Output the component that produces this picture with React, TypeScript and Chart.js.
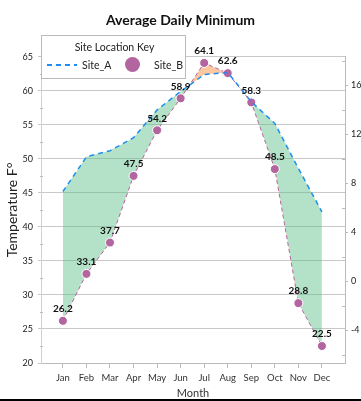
import React, { useEffect, useRef } from "react";
import { Chart, registerables } from "chart.js";

Chart.register(...registerables);

const months = ["Jan", "Feb", "Mar", "Apr", "May", "Jun", "Jul", "Aug", "Sep", "Oct", "Nov", "Dec"];
const siteA = [45.2, 50.3, 51.2, 53.1, 57.2, 59.9, 62.4, 62.7, 58.4, 55.2, 48.6, 42.2];
const siteB = [26.2, 33.1, 37.7, 47.5, 54.2, 58.9, 64.1, 62.6, 58.3, 48.5, 28.8, 22.5];
const fMin = 20;
const fMax = 65;
const fStep = 5;
const celsiusTicks = [-4, 0, 4, 8, 12, 16];
const fMinor = [22.5, 27.5, 32.5, 37.5, 42.5, 47.5, 52.5, 57.5, 62.5];
const cMinor = [-6, -2, 2, 6, 10, 14, 18];
const xMin = -0.93;
const xMax = 11.98;

const toC = (f: number) => ((f - 32) * 5) / 9;

const FONT = "Lato, 'Open Sans', sans-serif";
const BLUE = "#1e8ff0";
const PURPLE = "#b3659f";

const valueLabels = {
  id: "valueLabels",
  afterDatasetsDraw(chart: any) {
    const meta = chart.getDatasetMeta(1);
    const ctx = chart.ctx;
    ctx.save();
    ctx.font = `bold 10px ${FONT}`;
    ctx.fillStyle = "#111";
    ctx.textAlign = "center";
    ctx.textBaseline = "middle";
    meta.data.forEach((pt: any, i: number) => {
      ctx.fillText(siteB[i].toFixed(1), pt.x, pt.y - 12);
    });
    ctx.restore();
  },
};

const minorTicks = {
  id: "minorTicks",
  afterDraw(chart: any) {
    const ctx = chart.ctx;
    const y = chart.scales.y;
    const y1 = chart.scales.y1;
    const area = chart.chartArea;
    ctx.save();
    ctx.strokeStyle = "#bbbbbb";
    ctx.lineWidth = 1;
    ctx.beginPath();
    fMinor.forEach((v) => {
      const py = Math.round(y.getPixelForValue(v)) + 0.5;
      ctx.moveTo(area.left - 1, py);
      ctx.lineTo(area.left + 2, py);
    });
    cMinor.forEach((v) => {
      const py = Math.round(y1.getPixelForValue(v)) + 0.5;
      ctx.moveTo(area.right - 3, py);
      ctx.lineTo(area.right, py);
    });
    ctx.stroke();
    ctx.restore();
  },
};

export default function App() {
  const ref = useRef<HTMLCanvasElement | null>(null);

  useEffect(() => {
    if (!ref.current) return;
    const chart = new Chart(ref.current, {
      type: "line",
      data: {
        datasets: [
          {
            label: "Site_A",
            data: months.map((_, i) => ({ x: i, y: siteA[i] })),
            borderColor: BLUE,
            borderWidth: 1.5,
            borderDash: [5, 4],
            pointRadius: 0,
            tension: 0,
            fill: {
              target: 1,
              above: "rgba(86,190,133,0.45)",
              below: "rgba(251,145,65,0.5)",
            },
          },
          {
            label: "Site_B",
            data: months.map((_, i) => ({ x: i, y: siteB[i] })),
            borderColor: PURPLE,
            borderWidth: 1,
            borderDash: [4, 3],
            pointRadius: 4.5,
            pointBackgroundColor: PURPLE,
            pointBorderColor: "#ffffff",
            pointBorderWidth: 1,
            tension: 0,
            fill: false,
          },
        ],
      },
      options: {
        responsive: false,
        animation: false,
        layout: { padding: { left: 0, right: 0, top: 0, bottom: 0 } },
        plugins: {
          legend: { display: false },
          tooltip: { enabled: false },
          filler: { drawTime: "beforeDatasetsDraw" },
          title: {
            display: true,
            text: "Average Daily Minimum",
            font: { family: FONT, size: 14, weight: "bold" },
            color: "#111",
            padding: { top: 12, bottom: 28 },
          },
        } as any,
        scales: {
          x: {
            type: "linear",
            bounds: "data",
            min: xMin,
            max: xMax,
            afterBuildTicks: (scale: any) => {
              scale.ticks = months.map((_, i) => ({ value: i }));
              scale.min = xMin;
              scale.max = xMax;
            },
            afterFit: (scale: any) => {
              scale.height = 38;
            },
            ticks: {
              autoSkip: false,
              maxRotation: 0,
              padding: 4,
              color: "#333",
              font: { family: FONT, size: 9.5 },
              callback: (v: any) => months[Math.round(Number(v))] ?? "",
            },
            grid: {
              drawOnChartArea: false,
              drawTicks: true,
              tickLength: 5,
              color: "#bbbbbb",
            },
            border: { display: true, color: "#bbbbbb" },
            title: {
              display: true,
              text: "Month",
              color: "#333",
              font: { family: FONT, size: 11 },
              padding: { top: 0, bottom: 1 },
            },
          },
          y: {
            type: "linear",
            position: "left",
            min: fMin,
            max: fMax,
            afterFit: (scale: any) => {
              scale.width = 41;
            },
            ticks: {
              stepSize: fStep,
              padding: 5,
              color: "#222",
              font: { family: FONT, size: 9 },
            },
            grid: {
              color: "#c8c8c8",
              tickLength: 3,
            },
            border: { display: true, color: "#d0d0d0" },
            title: {
              display: true,
              text: "Temperature F°",
              color: "#222",
              font: { family: FONT, size: 14 },
              padding: { top: 4, bottom: 0 },
            },
          },
          y1: {
            type: "linear",
            position: "right",
            bounds: "data",
            min: toC(fMin),
            max: toC(fMax),
            afterBuildTicks: (scale: any) => {
              scale.ticks = celsiusTicks.map((v) => ({ value: v }));
              scale.min = toC(fMin);
              scale.max = toC(fMax);
            },
            afterFit: (scale: any) => {
              scale.width = 16;
            },
            ticks: {
              padding: 3,
              color: "#222",
              font: { family: FONT, size: 9 },
              callback: (v: any) => String(v),
            },
            grid: {
              drawOnChartArea: false,
              color: "#bbbbbb",
              tickLength: 3,
            },
            border: { display: true, color: "#bbbbbb" },
          },
        },
      } as any,
      plugins: [valueLabels, minorTicks],
    });
    return () => chart.destroy();
  }, []);

  const legendText: React.CSSProperties = {
    position: "absolute",
    fontFamily: FONT,
    fontSize: 10.5,
    color: "#222",
    lineHeight: "12px",
    whiteSpace: "nowrap",
  };

  return (
    <div style={{ position: "absolute", left: 0, top: 0, width: 361, height: 401, background: "#fff", overflow: "hidden" }}>
      <canvas ref={ref} width={361} height={401} style={{ display: "block" }} />
      <div
        style={{
          position: "absolute",
          left: 41,
          top: 35,
          width: 145,
          height: 44,
          border: "1px solid #bbbbbb",
          background: "#fff",
          boxSizing: "border-box",
        }}
      >
        <div style={{ ...legendText, left: 0, width: 145, top: 5, textAlign: "center" }}>Site Location Key</div>
        <svg style={{ position: "absolute", left: 5, top: 27 }} width={30} height={4}>
          <line x1={0} y1={2} x2={30} y2={2} stroke={BLUE} strokeWidth={2} strokeDasharray="5 4" />
        </svg>
        <div style={{ ...legendText, left: 40, top: 23 }}>Site_A</div>
        <div
          style={{
            position: "absolute",
            left: 83,
            top: 21,
            width: 15,
            height: 15,
            borderRadius: "50%",
            background: PURPLE,
          }}
        />
        <div style={{ ...legendText, left: 112, top: 23 }}>Site_B</div>
      </div>
      <div style={{ position: "absolute", left: 0, top: 399, width: 361, height: 2, background: "#000" }} />
    </div>
  );
}
